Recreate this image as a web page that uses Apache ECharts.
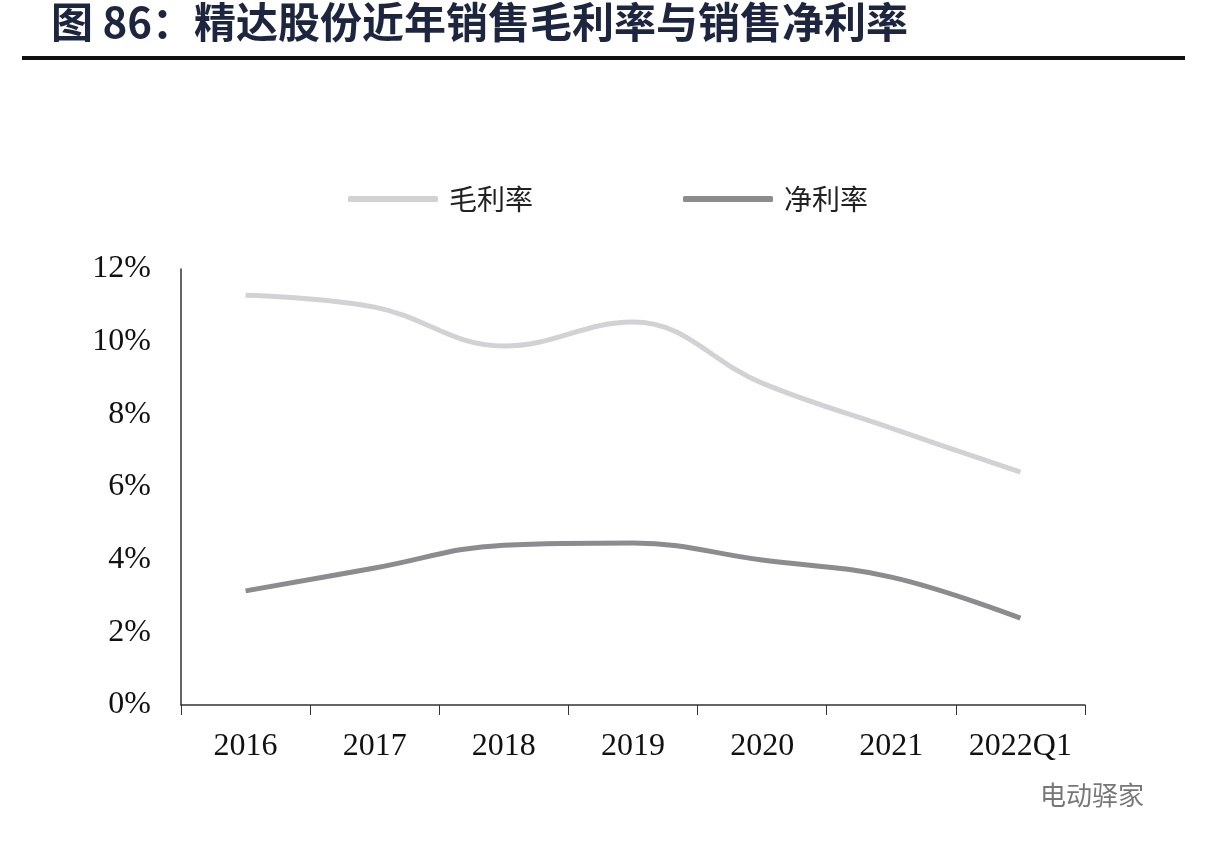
<!DOCTYPE html>
<html><head><meta charset="utf-8">
<script src="https://cdn.jsdelivr.net/npm/echarts@6/dist/echarts.min.js"></script>
<style>html,body{margin:0;padding:0;background:#fff}#c{width:1216px;height:852px}</style>
</head><body><div id="c"></div>
<script>
const categories = ['2016','2017','2018','2019','2020','2021','2022Q1'];
const grossMargin = [11.28, 10.95, 9.88, 10.54, 8.86, 7.62, 6.41];
const netMargin = [3.14, 3.77, 4.40, 4.46, 3.99, 3.52, 2.39];
const yTicks = [0, 2, 4, 6, 8, 10, 12];
const chart = echarts.init(document.getElementById('c'));
chart.setOption({
  backgroundColor: '#fff',
  animation: false,
  title: {
    text: '图 86：精达股份近年销售毛利率与销售净利率',
    left: 46, top: -4,
    textStyle: { fontFamily: 'Noto Sans CJK SC', fontWeight: 'bold', fontSize: 42, color: '#1c2640' }
  },
  graphic: [
    { type: 'rect', shape: { x: 22, y: 56, width: 1163, height: 4 }, style: { fill: '#111' } },
    { type: 'text', left: 1040, top: 782, style: { text: '电动驿家', font: '26px "Noto Sans CJK SC"', fill: '#777' } }
  ],
  legend: {
    top: 180, left: 'center', itemGap: 150, itemWidth: 90, itemHeight: 6,
    icon: 'roundRect',
    textStyle: { fontFamily: 'Noto Sans CJK SC', fontSize: 28, color: '#222', padding: [0, 0, 0, 6] },
    data: ['毛利率', '净利率']
  },
  grid: { left: 181, right: 131, top: 269, bottom: 147 },
  xAxis: {
    type: 'category', data: categories, boundaryGap: true,
    axisLine: { lineStyle: { color: '#333', width: 1.5 } },
    axisTick: { show: true, interval: 0, length: 10, lineStyle: { color: '#333' } },
    axisLabel: { interval: 0, fontFamily: 'Liberation Serif', fontSize: 32, color: '#111', margin: 26 }
  },
  yAxis: {
    type: 'value', min: 0, max: 12, interval: 2,
    splitLine: { show: false },
    axisLine: { show: true, lineStyle: { color: '#333', width: 1.5 } },
    axisTick: { show: false },
    axisLabel: { fontFamily: 'Liberation Serif', fontSize: 32, color: '#111', margin: 30,
      formatter: v => yTicks.includes(v) ? v + '%' : '' }
  },
  series: [
    { name: '毛利率', type: 'line', smooth: 0.4, symbol: 'none', data: grossMargin,
      lineStyle: { width: 5, color: '#d2d2d6' }, itemStyle: { color: '#d2d2d6' } },
    { name: '净利率', type: 'line', smooth: 0.4, symbol: 'none', data: netMargin,
      lineStyle: { width: 5, color: '#8c8b90' }, itemStyle: { color: '#8c8b90' } }
  ]
});
</script></body></html>
